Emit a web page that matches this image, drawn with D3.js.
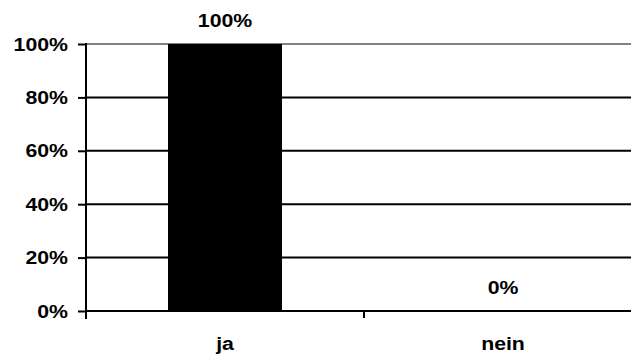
<!DOCTYPE html>
<html lang="de">
<head>
<meta charset="UTF-8">
<title>ja / nein</title>
<script src="https://d3js.org/d3.v7.min.js"></script>
<style>
    body { margin: 0; background: #fff; }
    text {
        font-family: "Liberation Sans", Arial, sans-serif;
        font-weight: bold;
        font-size: 19px;
        fill: #000;
    }
</style>
</head>
<body>
<div id="chart"></div>
<script>
// data
const categories = ["ja", "nein"];
const values = [1.0, 0.0];
const tickValues = [0, 0.2, 0.4, 0.6, 0.8, 1.0];

const width = 631, height = 358;
const plotLeft = 86, plotRight = 642, plotTop = 44, plotBottom = 311;

const svg = d3.select("#chart").append("svg")
    .attr("width", width)
    .attr("height", height);

const x = d3.scaleBand().domain(categories).range([plotLeft, plotRight]).padding(0);
const y = d3.scaleLinear().domain([0, 1]).range([plotBottom, plotTop]);
const pct = d => Math.round(d * 100) + "%";
const stretch = 1.12; // labels look a little wide in the original

// gridlines (top one is grey)
svg.selectAll("line.grid")
    .data(tickValues.filter(d => d > 0))
    .enter().append("line")
    .attr("class", "grid")
    .attr("x1", plotLeft).attr("x2", plotRight)
    .attr("y1", d => y(d)).attr("y2", d => y(d))
    .attr("stroke", d => d === 1 ? "#808080" : "#000")
    .attr("stroke-width", 2);

// bars
const barW = x.bandwidth() * 0.41;
svg.selectAll("rect")
    .data(categories)
    .enter().append("rect")
    .attr("x", d => x(d) + (x.bandwidth() - barW) / 2)
    .attr("y", (d, i) => y(values[i]))
    .attr("width", barW)
    .attr("height", (d, i) => plotBottom - y(values[i]))
    .attr("fill", "#000");

// y axis
const yAxis = svg.append("g").attr("transform", `translate(${plotLeft},0)`)
    .call(d3.axisLeft(y).tickValues(tickValues).tickFormat(pct).tickSize(8).tickPadding(10));
yAxis.select(".domain").remove();
yAxis.selectAll(".tick line").attr("stroke", "#000").attr("stroke-width", 2);
yAxis.selectAll(".tick text")
    .attr("font-size", null).attr("font-family", null)
    .attr("transform", `scale(${stretch},1)`)
    .attr("x", -18 / stretch);
svg.append("line")
    .attr("x1", plotLeft).attr("x2", plotLeft)
    .attr("y1", plotTop - 1).attr("y2", plotBottom + 8)
    .attr("stroke", "#000").attr("stroke-width", 2);

// x axis
svg.append("line")
    .attr("x1", plotLeft).attr("x2", plotRight)
    .attr("y1", plotBottom).attr("y2", plotBottom)
    .attr("stroke", "#000").attr("stroke-width", 2);
svg.selectAll("line.xtick")
    .data(categories)
    .enter().append("line")
    .attr("class", "xtick")
    .attr("x1", d => x(d) + x.bandwidth()).attr("x2", d => x(d) + x.bandwidth())
    .attr("y1", plotBottom).attr("y2", plotBottom + 7)
    .attr("stroke", "#000").attr("stroke-width", 2);

svg.selectAll("text.cat")
    .data(categories)
    .enter().append("text")
    .attr("class", "cat")
    .attr("text-anchor", "middle")
    .attr("transform", d => `translate(${x(d) + x.bandwidth() / 2},350) scale(${stretch},1)`)
    .text(d => d);

// value labels
svg.selectAll("text.val")
    .data(categories)
    .enter().append("text")
    .attr("class", "val")
    .attr("text-anchor", "middle")
    .attr("transform", (d, i) => `translate(${x(d) + x.bandwidth() / 2},${y(values[i]) - 17}) scale(${stretch},1)`)
    .text((d, i) => pct(values[i]));
</script>
</body>
</html>
